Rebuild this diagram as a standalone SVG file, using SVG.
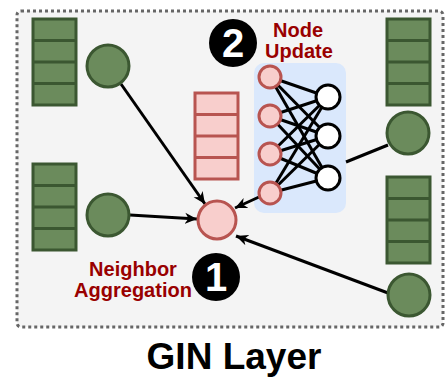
<svg xmlns="http://www.w3.org/2000/svg" width="446" height="378" viewBox="0 0 446 378">
  <defs>
    <marker id="arrow" markerUnits="userSpaceOnUse" markerWidth="14" markerHeight="12" refX="12" refY="6" orient="auto">
      <path d="M0,0.5 L12,6 L0,11.5 L3.5,6 z" fill="#000"/>
    </marker>
  </defs>
  <style>
    .frame { fill: #f4f4f4; stroke: #666; stroke-width: 3; stroke-dasharray: 3 3; }
    .stack-g { fill: #6b8b5c; stroke: #3b5731; stroke-width: 3; }
    .node-g { fill: #6b8b5c; stroke: #3b5731; stroke-width: 3; }
    .stack-r { fill: #f8cecc; stroke: #b85450; stroke-width: 3; }
    .node-r { fill: #f8cecc; stroke: #b85450; stroke-width: 3; }
    .node-w { fill: #fff; stroke: #000; stroke-width: 3; }
    .edge { stroke: #000; stroke-width: 3; fill: none; }
    .badge { fill: #000; }
    .badge-num { fill: #fff; font-family: "Liberation Sans", Arial, sans-serif; font-weight: bold; font-size: 40px; text-anchor: middle; }
    .lbl { fill: #990000; font-family: "Liberation Sans", Arial, sans-serif; font-weight: bold; font-size: 20px; text-anchor: middle; }
    .title { fill: #000; font-family: "Liberation Sans", Arial, sans-serif; font-weight: bold; font-size: 37px; text-anchor: middle; }
  </style>

  <!-- layer frame -->
  <rect class="frame" x="17" y="11" width="426" height="316" rx="4"/>

  <!-- MLP background -->
  <rect id="mlp-box" x="254" y="63" width="92" height="150" rx="10" fill="#dae8fc"/>

  <!-- connectors -->
  <g id="connectors">
    <line class="edge" x1="121" y1="84" x2="205" y2="204" marker-end="url(#arrow)"/>
    <line class="edge" x1="130" y1="215" x2="197" y2="219" marker-end="url(#arrow)"/>
    <line class="edge" x1="259" y1="197" x2="235" y2="208" marker-end="url(#arrow)"/>
    <line class="edge" x1="388" y1="293" x2="236" y2="236" marker-end="url(#arrow)"/>
    <line class="edge" x1="346" y1="162" x2="388" y2="145"/>
    <!-- fully connected MLP -->
    <g class="edge">
      <line x1="270" y1="77" x2="328" y2="97"/>
      <line x1="270" y1="77" x2="328" y2="136"/>
      <line x1="270" y1="77" x2="328" y2="178"/>
      <line x1="270" y1="116" x2="328" y2="97"/>
      <line x1="270" y1="116" x2="328" y2="136"/>
      <line x1="270" y1="116" x2="328" y2="178"/>
      <line x1="270" y1="154" x2="328" y2="97"/>
      <line x1="270" y1="154" x2="328" y2="136"/>
      <line x1="270" y1="154" x2="328" y2="178"/>
      <line x1="270" y1="193" x2="328" y2="97"/>
      <line x1="270" y1="193" x2="328" y2="136"/>
      <line x1="270" y1="193" x2="328" y2="178"/>
    </g>
  </g>

  <!-- neighbor feature stacks -->
  <g id="stack-tl">
    <rect class="stack-g" x="33" y="19" width="43" height="86"/>
    <path class="stack-g" d="M33,40.5 H76 M33,62 H76 M33,83.5 H76"/>
  </g>
  <g id="stack-ml">
    <rect class="stack-g" x="33" y="164" width="43" height="86"/>
    <path class="stack-g" d="M33,185.5 H76 M33,207 H76 M33,228.5 H76"/>
  </g>
  <g id="stack-tr">
    <rect class="stack-g" x="387" y="19" width="43" height="86"/>
    <path class="stack-g" d="M387,40.5 H430 M387,62 H430 M387,83.5 H430"/>
  </g>
  <g id="stack-br">
    <rect class="stack-g" x="387" y="177" width="43" height="86"/>
    <path class="stack-g" d="M387,198.5 H430 M387,220 H430 M387,241.5 H430"/>
  </g>
  <g id="stack-center">
    <rect class="stack-r" x="195" y="93" width="43" height="86"/>
    <path class="stack-r" d="M195,114.5 H238 M195,136 H238 M195,157.5 H238"/>
  </g>

  <!-- neighbor nodes -->
  <g id="node-tl"><circle class="node-g" cx="108" cy="66" r="21"/></g>
  <g id="node-ml"><circle class="node-g" cx="108" cy="215" r="21"/></g>
  <g id="node-tr"><circle class="node-g" cx="408" cy="133" r="21"/></g>
  <g id="node-br"><circle class="node-g" cx="409" cy="295" r="21"/></g>

  <!-- aggregated node -->
  <g id="node-center"><circle class="node-r" cx="217" cy="220" r="19"/></g>

  <!-- MLP input layer -->
  <g id="mlp-in">
    <circle class="node-r" cx="270" cy="77" r="11"/>
    <circle class="node-r" cx="270" cy="116" r="11"/>
    <circle class="node-r" cx="270" cy="154" r="11"/>
    <circle class="node-r" cx="270" cy="193" r="11"/>
  </g>
  <!-- MLP output layer -->
  <g id="mlp-out">
    <circle class="node-w" cx="328" cy="97" r="12"/>
    <circle class="node-w" cx="328" cy="136" r="12"/>
    <circle class="node-w" cx="328" cy="178" r="12"/>
  </g>

  <!-- step badges and labels -->
  <g id="step-2">
    <circle class="badge" cx="233" cy="43" r="24"/>
    <text class="badge-num" x="233" y="57">2</text>
    <text class="lbl" x="298" y="37">Node</text>
    <text class="lbl" x="299" y="58">Update</text>
  </g>
  <g id="step-1">
    <circle class="badge" cx="216" cy="277" r="24"/>
    <text class="badge-num" x="216" y="291">1</text>
    <text class="lbl" x="133" y="276">Neighbor</text>
    <text class="lbl" x="133" y="297">Aggregation</text>
  </g>

  <text id="title" class="title" x="234" y="369">GIN Layer</text>
</svg>
